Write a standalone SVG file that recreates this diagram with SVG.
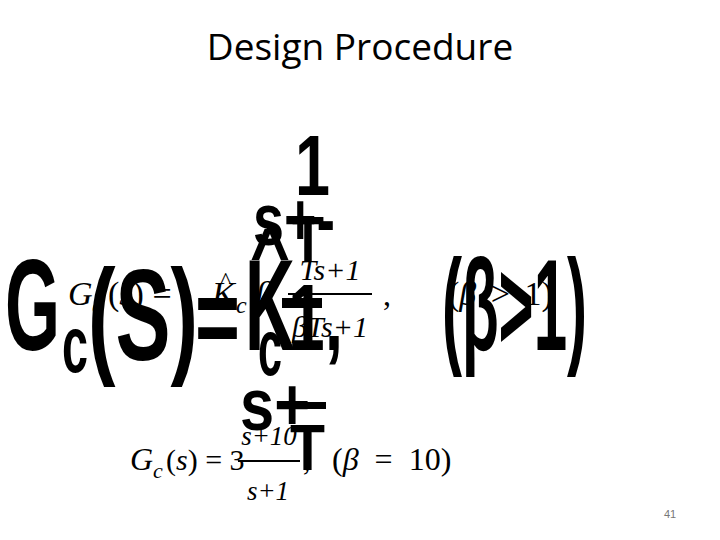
<svg xmlns="http://www.w3.org/2000/svg" width="720" height="540" viewBox="0 0 720 540">
<style>
.b{font-family:"Liberation Sans",sans-serif;font-weight:bold;fill:#000}
.m{font-family:"Liberation Serif",serif;font-style:italic;fill:#000}
.r{font-family:"Liberation Serif",serif;fill:#000}
.t{font-family:"Open Sans",sans-serif;fill:#000}
</style>
<rect width="720" height="540" fill="#fff"/>
<text class="t" x="360" y="60" font-size="37" text-anchor="middle">Design Procedure</text>
<g id="big">
<text class="b" x="5" y="350" font-size="130" textLength="55" lengthAdjust="spacingAndGlyphs">G</text>
<text class="b" x="62" y="372" font-size="80" textLength="26" lengthAdjust="spacingAndGlyphs">c</text>
<text class="b" x="88" y="360" font-size="130" textLength="110" lengthAdjust="spacingAndGlyphs">(S)</text>
<text class="b" x="195" y="355" font-size="110" textLength="45" lengthAdjust="spacingAndGlyphs">=</text>
<text class="b" x="245" y="350" font-size="130" textLength="50" lengthAdjust="spacingAndGlyphs">K</text>
<text class="b" x="250" y="278" font-size="70" textLength="40" lengthAdjust="spacingAndGlyphs">^</text>
<text class="b" x="258" y="375" font-size="80" textLength="24" lengthAdjust="spacingAndGlyphs">c</text>
<text class="b" x="295" y="195" font-size="85" textLength="35" lengthAdjust="spacingAndGlyphs">1</text>
<text class="b" x="253" y="245" font-size="75" textLength="82" lengthAdjust="spacingAndGlyphs">s+-</text>
<text class="b" x="292" y="262" font-size="65" textLength="32" lengthAdjust="spacingAndGlyphs">T</text>
<rect x="282" y="298" width="40" height="10"/>
<text class="b" x="288" y="350" font-size="95" textLength="55" lengthAdjust="spacingAndGlyphs">1,</text>
<text class="b" x="240" y="430" font-size="75" textLength="70" lengthAdjust="spacingAndGlyphs">s+</text>
<rect x="292" y="402" width="34" height="7"/>
<text class="b" x="290" y="470" font-size="65" textLength="35" lengthAdjust="spacingAndGlyphs">T</text>
<text class="b" x="442" y="350" font-size="130" textLength="145" lengthAdjust="spacingAndGlyphs">(β&gt;1)</text>
</g>
<g id="formula1">
<text class="m" x="68" y="305" font-size="34">G</text>
<text class="m" x="92" y="313" font-size="24">c</text>
<text class="r" x="108" y="305" font-size="34">(<tspan class="m">s</tspan>) =</text>
<text class="m" x="212" y="305" font-size="34">K</text>
<text class="r" x="220" y="288" font-size="24">^</text>
<text class="m" x="236" y="313" font-size="24">c</text>
<text class="m" x="256" y="305" font-size="34">β</text>
<text class="m" x="330" y="280" font-size="30" text-anchor="middle">Ts<tspan class="r">+1</tspan></text>
<rect x="288" y="293" width="84" height="2"/>
<text class="m" x="330" y="337" font-size="30" text-anchor="middle">βTs<tspan class="r">+1</tspan></text>
<text class="r" x="383" y="305" font-size="32">,</text>
<text class="r" x="448" y="305" font-size="34" word-spacing="6">(<tspan class="m">β</tspan> &gt; 1)</text>
</g>
<g id="formula2">
<text class="m" x="130" y="470" font-size="32">G</text>
<text class="m" x="153" y="478" font-size="22">c</text>
<text class="r" x="166" y="470" font-size="30">(<tspan class="m">s</tspan>) = 3</text>
<text class="m" x="269" y="445" font-size="27" text-anchor="middle">s<tspan class="r">+10</tspan></text>
<rect x="238" y="460" width="62" height="2"/>
<text class="m" x="268" y="500" font-size="27" text-anchor="middle">s<tspan class="r">+1</tspan></text>
<text class="r" x="303" y="470" font-size="30">,</text>
<text class="r" x="332" y="470" font-size="32" word-spacing="8">(<tspan class="m">β</tspan> = 10)</text>
</g>
<text x="670" y="518" font-family="Liberation Sans,sans-serif" font-size="11" fill="#777" text-anchor="middle">41</text>
</svg>
